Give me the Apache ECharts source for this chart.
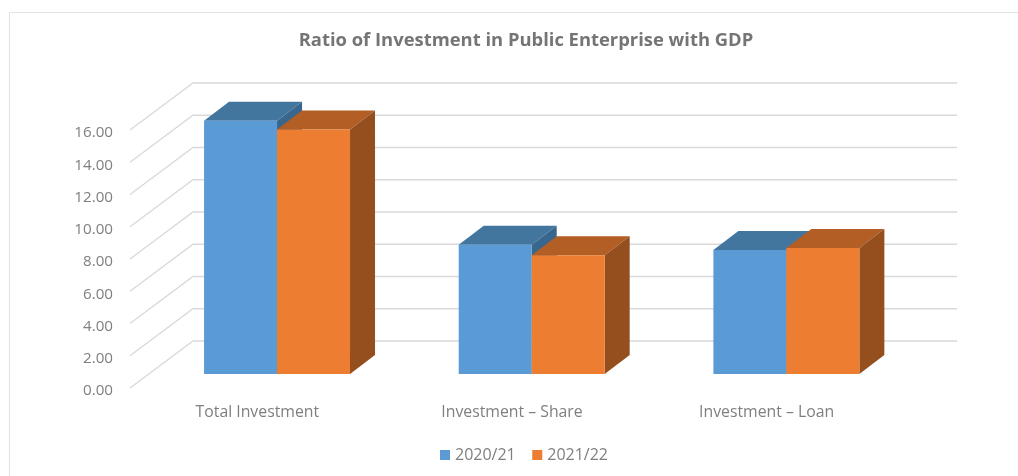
<!DOCTYPE html>
<html>
<head>
<meta charset="utf-8">
<style>html,body{margin:0;padding:0;background:#fff}#c{width:1018px;height:476px}</style>
<script src="https://cdn.jsdelivr.net/npm/echarts@6/dist/echarts.min.js"></script>
</head>
<body>
<div id="c"></div>
<script>
const categories = ['Total Investment', 'Investment – Share', 'Investment – Loan'];
const years = ['2020/21', '2021/22'];
const values2020 = [15.71, 8.02, 7.69];
const values2021 = [15.17, 7.36, 7.81];
const yTicks = [0, 2, 4, 6, 8, 10, 12, 14, 16];

const FONT = '"Open Sans", sans-serif';
const GREY = '#7f7f7f';
const WALL_DX = 63, WALL_DY = 47;      // depth of the floor of the box
const BAR_SHIFT_X = 19.7, BAR_SHIFT_Y = 14; // bars stand in the middle of the depth
const BAR_DX = 25, BAR_DY = 19;        // depth of one bar
const BAR_SHARE = 0.2866;              // share of a band taken by one bar

function wallItem(params, api) {
  const cs = params.coordSys;
  const y = api.coord([0, api.value(0)])[1];
  return {
    type: 'polyline',
    silent: true,
    shape: { points: [[cs.x, y], [cs.x + WALL_DX, y - WALL_DY], [cs.x + cs.width + WALL_DX, y - WALL_DY]] },
    style: { fill: null, stroke: '#d9d9d9', lineWidth: 1.3 }
  };
}

function barRenderer(side, front, top, flank) {
  return function (params, api) {
    const band = api.size([1, 0])[0];
    const w = band * BAR_SHARE;
    const p = api.coord([api.value(0), api.value(1)]);
    const b = api.coord([api.value(0), 0]);
    const x0 = p[0] + BAR_SHIFT_X + (side < 0 ? -w : 0);
    const x1 = x0 + w;
    const yt = p[1] - BAR_SHIFT_Y;
    const yb = b[1] - BAR_SHIFT_Y;
    return {
      type: 'group',
      children: [
        { type: 'polygon', shape: { points: [[x0, yt], [x1, yt], [x1 + BAR_DX, yt - BAR_DY], [x0 + BAR_DX, yt - BAR_DY]] }, style: { fill: top } },
        { type: 'polygon', shape: { points: [[x1, yt], [x1 + BAR_DX, yt - BAR_DY], [x1 + BAR_DX, yb - BAR_DY], [x1, yb]] }, style: { fill: flank } },
        { type: 'rect', shape: { x: x0, y: yt, width: w, height: yb - yt }, style: { fill: front } }
      ]
    };
  };
}

const chart = echarts.init(document.getElementById('c'), null, { renderer: 'canvas' });
chart.setOption({
  animation: false,
  backgroundColor: '#fff',
  title: {
    text: 'Ratio of Investment in Public Enterprise with GDP',
    left: 521, top: 27, textAlign: 'center',
    textStyle: { fontFamily: FONT, fontSize: 18.4, fontWeight: 'bold', color: '#757575' }
  },
  legend: {
    data: years,
    left: 435, top: 442,
    icon: 'rect', itemWidth: 10, itemHeight: 10, itemGap: 16.5,
    textStyle: { fontFamily: FONT, fontSize: 16, color: GREY }
  },
  grid: { left: 130, right: 124, top: 130, bottom: 88 },
  xAxis: {
    type: 'category', data: categories,
    axisLine: { show: false }, axisTick: { show: false }, splitLine: { show: false },
    axisLabel: { fontFamily: FONT, fontSize: 15.8, color: GREY, margin: 16 }
  },
  yAxis: {
    type: 'value', min: 0, max: 16, interval: 2,
    axisLine: { show: false }, axisTick: { show: false }, splitLine: { show: false },
    axisLabel: {
      margin: 17,
      formatter: v => '{t|' + v.toFixed(2) + '}',
      rich: { t: { fontFamily: FONT, fontSize: 15.2, color: GREY, padding: [6, 0, 0, 0] } }
    }
  },
  graphic: [
    { type: 'polyline', silent: true, z: -1,
      shape: { points: [[9.5, 476], [9.5, 12.5], [1018, 12.5]] },
      style: { fill: null, stroke: '#e2e2e2', lineWidth: 1 } }
  ],
  series: [
    { type: 'custom', name: 'wall', silent: true, z: 1,
      data: yTicks.map(v => [v]), encode: { y: 0 }, renderItem: wallItem },
    { type: 'custom', name: years[0], z: 2, itemStyle: { color: '#5b9bd5' },
      data: values2020.map((v, i) => [i, v]), encode: { x: 0, y: 1 },
      renderItem: barRenderer(-1, '#5b9bd5', '#43769f', '#38668c') },
    { type: 'custom', name: years[1], z: 3, itemStyle: { color: '#ed7d31' },
      data: values2021.map((v, i) => [i, v]), encode: { x: 0, y: 1 },
      renderItem: barRenderer(1, '#ed7d31', '#b35e25', '#954f1f') }
  ]
});
</script>
</body>
</html>
